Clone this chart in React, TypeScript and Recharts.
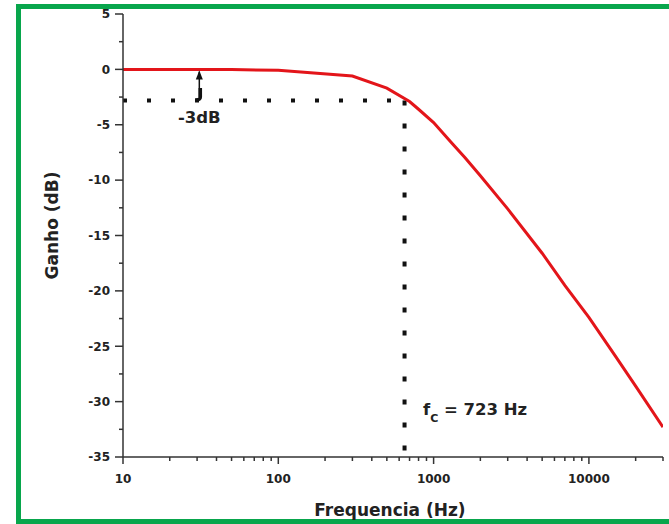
import React from 'react';
import { LineChart, Line, XAxis, YAxis, ReferenceLine, ReferenceDot } from 'recharts';

// Frequency response
const freqHz = [10, 20, 50, 100, 300, 500, 700, 800, 1000, 1300, 1600, 2000, 3000, 5000, 7000, 10000, 15000, 20000, 30000];
const gainDb = [0, 0, -0.02, -0.08, -0.6, -1.7, -2.9, -3.6, -4.8, -6.6, -8.0, -9.6, -12.6, -16.6, -19.5, -22.4, -26.0, -28.6, -32.3];

const xMajorTicks = [10, 100, 1000, 10000];
const xMinorTicks = [20, 30, 40, 50, 60, 70, 80, 90, 200, 300, 400, 500, 600, 700, 800, 900, 2000, 3000, 4000, 5000, 6000, 7000, 8000, 9000, 20000, 30000];
const xTickLabels = ['10', '100', '1000', '10000'];
const yMajorTicks = [-35, -30, -25, -20, -15, -10, -5, 0, 5];
const yMinorTicks = [-32.5, -27.5, -22.5, -17.5, -12.5, -7.5, -2.5, 2.5];

const xDomain = [10, 30000];
const yDomain = [-35, 5];

// Annotations
const cutoffLineHz = 650;
const cutoffLineDb = -2.8;
const arrowHz = 31;
const arrowTopDb = -0.2;
const arrowBottomDb = -2.5;
const dbLabel = '-3dB';
const dbLabelPos = { x: 31, y: -4.3 };
const fcLabelPos = { x: 855, y: -31.2 };
const fcValueText = ' = 723 Hz';

const data = freqHz.map((f, i) => ({ f, g: gainDb[i] }));
const xTicks = [...xMajorTicks, ...xMinorTicks].sort((a, b) => a - b);
const yTicks = [...yMajorTicks, ...yMinorTicks].sort((a, b) => a - b);

const FONT = '"DejaVu Sans", "Liberation Sans", Arial, sans-serif';
const AXIS = '#333';
const TEXT = '#222';
const GREEN = '#08a64c';
const TICK_SIZE = 8;
const TICK_MARGIN = 4;

const YTick = (props: any) => {
  const { x, y, payload } = props;
  const v = payload.value;
  const axisX = x + TICK_SIZE + TICK_MARGIN;
  const major = yMajorTicks.includes(v);
  return (
    <g>
      <line x1={axisX - (major ? 8 : 4)} x2={axisX} y1={y} y2={y} stroke={AXIS} strokeWidth={1.5} />
      {major && (
        <text x={axisX - 13} y={y} dy="0.36em" textAnchor="end" fontFamily={FONT} fontWeight="bold" fontSize={12} fill={TEXT}>
          {String(v)}
        </text>
      )}
    </g>
  );
};

const XTick = (props: any) => {
  const { x, y, payload } = props;
  const v = payload.value;
  const axisY = y - TICK_SIZE - TICK_MARGIN;
  const idx = xMajorTicks.indexOf(v);
  const major = idx >= 0;
  return (
    <g>
      <line x1={x} x2={x} y1={axisY} y2={axisY + (major ? 7 : 4)} stroke={AXIS} strokeWidth={1.5} />
      {major && (
        <text x={x} y={axisY + 26} textAnchor="middle" fontFamily={FONT} fontWeight="bold" fontSize={12} fill={TEXT}>
          {xTickLabels[idx]}
        </text>
      )}
    </g>
  );
};

const YLabel = (props: any) => {
  const vb = props.viewBox || { x: 0, y: 14, width: 123, height: 443 };
  const cx = vb.x + 52;
  const cy = vb.y + vb.height / 2 - 10;
  return (
    <text x={cx} y={cy} transform={`rotate(-90, ${cx}, ${cy})`} textAnchor="middle" dominantBaseline="central" fontFamily={FONT} fontWeight="bold" fontSize={17} fill={TEXT}>
      Ganho (dB)
    </text>
  );
};

const XLabel = (props: any) => {
  const vb = props.viewBox || { x: 123, y: 457, width: 540, height: 67 };
  const cx = vb.x + vb.width / 2 - 3;
  return (
    <text x={cx} y={vb.y + 59} textAnchor="middle" fontFamily={FONT} fontWeight="bold" fontSize={17} fill={TEXT}>
      Frequencia (Hz)
    </text>
  );
};

const ArrowHead = (props: any) => {
  const { cx, cy } = props;
  return <polygon points={`${cx},${cy - 1} ${cx - 3.5},${cy + 8} ${cx + 3.5},${cy + 8}`} fill="#111" />;
};

const ArrowTail = (props: any) => {
  const { cx, cy } = props;
  return (
    <path d={`M ${cx + 1} ${cy - 9} L ${cx + 1} ${cy} Q ${cx + 1} ${cy + 3} ${cx - 4} ${cy + 3}`} stroke="#111" strokeWidth={3.5} fill="none" />
  );
};

const DbText = (props: any) => {
  const { cx, cy } = props;
  return (
    <text x={cx} y={cy} dy="0.36em" textAnchor="middle" fontFamily={FONT} fontWeight="bold" fontSize={16.5} fill={TEXT}>
      {dbLabel}
    </text>
  );
};

const FcText = (props: any) => {
  const { cx, cy } = props;
  return (
    <text x={cx} y={cy} textAnchor="start" fontFamily={FONT} fontWeight="bold" fontSize={16.5} fill={TEXT}>
      <tspan>f</tspan>
      <tspan dy={7} fontSize={11}>C</tspan>
      <tspan dy={-7}>{fcValueText}</tspan>
    </text>
  );
};

export default function App() {
  return (
    <div style={{ position: 'absolute', left: 0, top: 0, width: 669, height: 524, overflow: 'hidden', background: '#fff' }}>
      <div style={{ position: 'absolute', left: 16, top: 4, width: 653, height: 5, background: GREEN }} />
      <div style={{ position: 'absolute', left: 16, top: 4, width: 5, height: 520, background: GREEN }} />
      <div style={{ position: 'absolute', left: 16, top: 519, width: 653, height: 5, background: GREEN }} />
      <div style={{ position: 'absolute', left: 0, top: 0 }}>
        <LineChart width={669} height={524} data={data} margin={{ top: 14, right: 6, left: 0, bottom: 0 }}>
          <XAxis
            dataKey="f"
            type="number"
            scale="log"
            domain={xDomain}
            ticks={xTicks}
            interval={0}
            allowDataOverflow
            height={67}
            tickSize={TICK_SIZE}
            tickMargin={TICK_MARGIN}
            tickLine={false}
            axisLine={{ stroke: AXIS, strokeWidth: 1.5 }}
            tick={<XTick />}
            label={<XLabel />}
          />
          <YAxis
            type="number"
            domain={yDomain}
            ticks={yTicks}
            interval={0}
            allowDecimals
            width={123}
            tickSize={TICK_SIZE}
            tickMargin={TICK_MARGIN}
            tickLine={false}
            axisLine={{ stroke: AXIS, strokeWidth: 1.5 }}
            tick={<YTick />}
            label={<YLabel />}
          />
          <ReferenceLine
            segment={[{ x: xDomain[0], y: cutoffLineDb }, { x: cutoffLineHz, y: cutoffLineDb }]}
            stroke="#111"
            strokeWidth={4}
            strokeDasharray="4 20"
          />
          <ReferenceLine
            segment={[{ x: cutoffLineHz, y: cutoffLineDb }, { x: cutoffLineHz, y: yDomain[0] }]}
            stroke="#111"
            strokeWidth={4}
            strokeDasharray="5 18"
          />
          <ReferenceLine
            segment={[{ x: arrowHz, y: arrowTopDb }, { x: arrowHz, y: arrowBottomDb }]}
            stroke="#111"
            strokeWidth={1.5}
          />
          <ReferenceDot x={arrowHz} y={arrowTopDb} r={0} shape={<ArrowHead />} />
          <ReferenceDot x={arrowHz} y={arrowBottomDb} r={0} shape={<ArrowTail />} />
          <ReferenceDot x={dbLabelPos.x} y={dbLabelPos.y} r={0} shape={<DbText />} />
          <ReferenceDot x={fcLabelPos.x} y={fcLabelPos.y} r={0} shape={<FcText />} />
          <Line dataKey="g" type="linear" stroke="#e3151a" strokeWidth={3} dot={false} isAnimationActive={false} />
        </LineChart>
      </div>
    </div>
  );
}
